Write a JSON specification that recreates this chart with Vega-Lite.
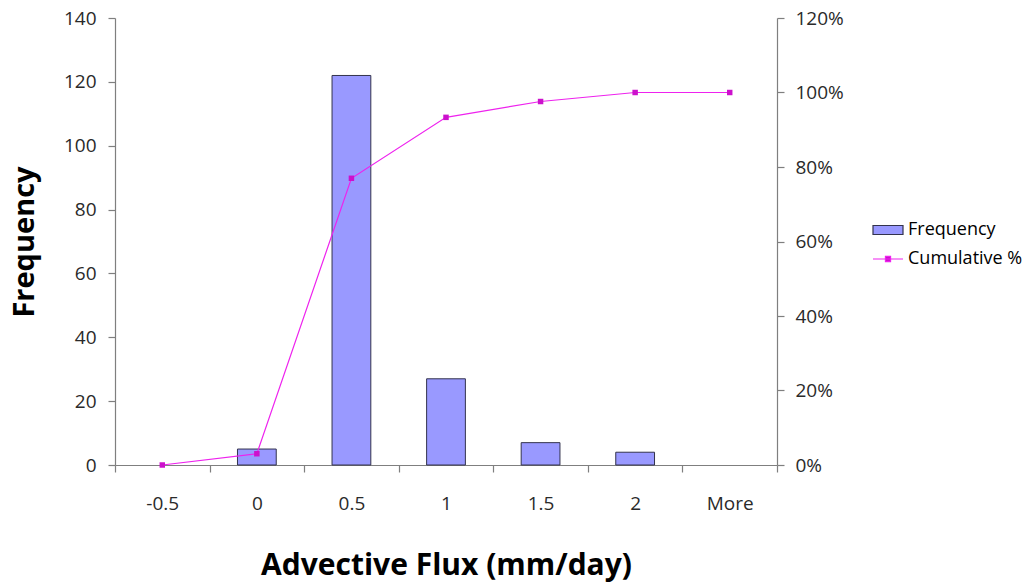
{
  "$schema": "https://vega.github.io/schema/vega-lite/v6.json",
  "width": 662,
  "height": 447,
  "autosize": {"type": "none"},
  "padding": {"left": 115, "top": 18, "right": 252, "bottom": 119},
  "background": "white",
  "config": {
    "font": "Open Sans",
    "view": {"stroke": null},
    "axis": {
      "grid": false,
      "domainColor": "#7f7f7f",
      "tickColor": "#7f7f7f",
      "domainWidth": 1.2,
      "tickWidth": 1.2,
      "labelColor": "#2a2a2a",
      "labelFontSize": 19,
      "titleColor": "#000000",
      "titleFontWeight": "bold"
    },
    "legend": {
      "labelFontSize": 18,
      "labelColor": "#000000",
      "labelOffset": 4,
      "symbolSize": 900
    }
  },
  "data": {
    "values": [
      {"bin": "-0.5", "freq": 0, "cum": 0.0},
      {"bin": "0", "freq": 5, "cum": 0.0303},
      {"bin": "0.5", "freq": 122, "cum": 0.7697},
      {"bin": "1", "freq": 27, "cum": 0.9333},
      {"bin": "1.5", "freq": 7, "cum": 0.9758},
      {"bin": "2", "freq": 4, "cum": 1.0},
      {"bin": "More", "freq": 0, "cum": 1.0}
    ]
  },
  "encoding": {
    "x": {
      "field": "bin",
      "type": "ordinal",
      "sort": ["-0.5", "0", "0.5", "1", "1.5", "2", "More"],
      "scale": {"domain": ["-0.5", "0", "0.5", "1", "1.5", "2", "More"], "paddingInner": 0, "paddingOuter": 0},
      "axis": {
        "title": "Advective Flux (mm/day)",
        "titleFontSize": 30,
        "labelAngle": 0,
        "tickBand": "extent",
        "tickSize": 7,
        "labelPadding": 22,
        "titlePadding": 37
      }
    }
  },
  "layer": [
    {
      "transform": [{"filter": "datum.freq > 0"}],
      "mark": {"type": "bar", "width": {"band": 0.41}, "stroke": "#33334d", "strokeWidth": 1},
      "encoding": {
        "y": {
          "field": "freq",
          "type": "quantitative",
          "scale": {"domain": [0, 140]},
          "axis": {
            "title": "Frequency",
            "titleFontSize": 29,
            "values": [0, 20, 40, 60, 80, 100, 120, 140],
            "tickSize": 7,
            "labelPadding": 12,
            "titlePadding": 24
          }
        },
        "fill": {
          "datum": "Frequency",
          "type": "nominal",
          "scale": {"domain": ["Frequency"], "range": ["#9999FF"]},
          "legend": {
            "title": null,
            "orient": "none",
            "legendX": 757,
            "legendY": 196,
            "symbolType": "M-1,-0.3H1V0.3H-1Z",
            "symbolStrokeColor": "#33334d",
            "symbolStrokeWidth": 1.2
          }
        }
      }
    },
    {
      "encoding": {
        "y": {
          "field": "cum",
          "type": "quantitative",
          "scale": {"domain": [0, 1.2]},
          "axis": {
            "orient": "right",
            "title": null,
            "format": ".0%",
            "values": [0, 0.2, 0.4, 0.6, 0.8, 1.0, 1.2],
            "tickSize": 7,
            "labelPadding": 11
          }
        }
      },
      "layer": [
        {
          "mark": {"type": "line", "strokeWidth": 1.2},
          "encoding": {
            "stroke": {
              "datum": "Cumulative %",
              "type": "nominal",
              "scale": {"domain": ["Cumulative %"], "range": ["#EE22EE"]},
              "legend": {
                "title": null,
                "orient": "none",
                "legendX": 757,
                "legendY": 225,
                "symbolType": "M-1,0H1M-0.17,-0.17H0.17V0.17H-0.17Z",
                "symbolFillColor": "#CC11CC",
                "symbolStrokeWidth": 1.2
              }
            }
          }
        },
        {
          "mark": {"type": "point", "shape": "square", "filled": true, "size": 30, "color": "#CC11CC", "opacity": 1}
        }
      ]
    }
  ],
  "resolve": {"scale": {"y": "independent"}}
}
